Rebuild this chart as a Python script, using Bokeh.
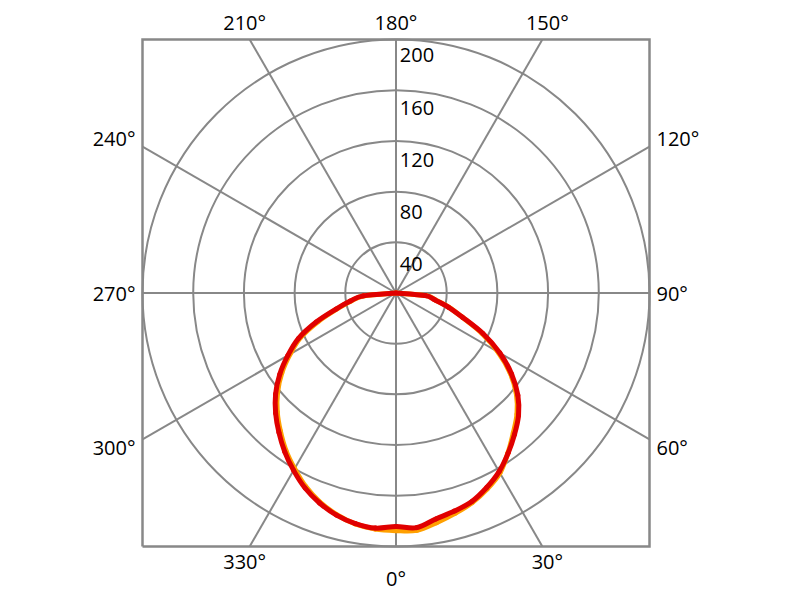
import numpy as np
from bokeh.plotting import figure
from bokeh.core.properties import value
from bokeh.embed import file_html
from bokeh.resources import INLINE

# ---- data ----
angles = [-90, -85, -80, -75, -70, -65, -60, -55, -50, -45, -40, -35, -30, -25, -20, -15, -10, -5,
          0, 5, 10, 15, 20, 25, 30, 35, 40, 45, 50, 55, 60, 65, 70, 75, 80, 85, 90]
orange_vals = [0, 25, 36, 48, 65, 83, 96.5, 110, 122, 132.5, 142, 151.5, 160, 168.5, 175.5, 181, 185, 187,
               187.5, 188, 184, 180, 176, 170.5, 164, 154, 144, 135, 124, 110, 93, 74.5, 55.5, 43, 31.5, 24, 0]
red_vals = [0, 26, 36.6, 49, 67, 85, 98.5, 112, 124, 134.3, 143.7, 153, 161.6, 169.8, 176.3, 181.4, 184.7, 186.2,
            184.2, 185.8, 181, 178.1, 175, 169.3, 162.7, 154.2, 145.5, 136.7, 125.5, 111.3, 94.6, 75.7, 55.8, 42.7, 31, 23, 0]
radial_ticks = [40, 80, 120, 160, 200]
radial_labels = ["40", "80", "120", "160", "200"]
angle_ticks = [0, 30, 60, 90, 120, 150, 180, 210, 240, 270, 300, 330]
angle_labels = ["0°", "30°", "60°", "90°", "120°", "150°", "180°", "210°", "240°", "270°", "300°", "330°"]

RMAX = 200
GRID = "#888888"
FONT = "Open Sans"
FS = "20px"
TXT = "#000000"

W, H = 796, 596
CX, CY = 395.5, 292.5          # centre of the polar area on the canvas
PX = 253.5 / RMAX              # pixels per data unit

p = figure(width=W, height=H,
           x_range=(-CX / PX, (W - CX) / PX), y_range=((CY - H) / PX, CY / PX),
           min_border=0, x_axis_type=None, y_axis_type=None,
           output_backend="svg", toolbar_location=None)
p.grid.visible = False
p.outline_line_color = None
p.background_fill_color = "white"
p.border_fill_color = "white"

# circles
for r in radial_ticks:
    p.circle(x=[0], y=[0], radius=r, fill_color=None, line_color=GRID, line_width=2)

# spokes to the square border
for a in angle_ticks:
    t = np.radians(a)
    dx, dy = np.sin(t), -np.cos(t)
    s = RMAX / max(abs(dx), abs(dy))
    p.line([0, s * dx], [0, s * dy], line_color=GRID, line_width=2)

# square border
p.line([-RMAX, RMAX, RMAX, -RMAX, -RMAX], [-RMAX, -RMAX, RMAX, RMAX, -RMAX],
       line_color=GRID, line_width=2.5, line_join="miter")


def smooth_curve(vals, color):
    th = np.radians(angles)
    r = np.array(vals, dtype=float)
    x = r * np.sin(th)
    y = -r * np.cos(th)
    n = len(x)
    xp = np.concatenate([[x[0]], x, [x[-1]]])
    yp = np.concatenate([[y[0]], y, [y[-1]]])
    x0, y0 = xp[1:n], yp[1:n]
    x1, y1 = xp[2:n + 1], yp[2:n + 1]
    cx0 = x0 + (xp[2:n + 1] - xp[0:n - 1]) / 6
    cy0 = y0 + (yp[2:n + 1] - yp[0:n - 1]) / 6
    cx1 = x1 - (xp[3:n + 2] - xp[1:n]) / 6
    cy1 = y1 - (yp[3:n + 2] - yp[1:n]) / 6
    p.bezier(x0=x0, y0=y0, x1=x1, y1=y1, cx0=cx0, cy0=cy0, cx1=cx1, cy1=cy1,
             line_color=color, line_width=5, line_cap="round")


smooth_curve(orange_vals, "#ffa000")
smooth_curve(red_vals, "#e00000")

# radial labels
ry = [r - (18 - 0.027 * r) for r in radial_ticks]
p.text(x=[3] * len(radial_ticks), y=ry, text=radial_labels, text_font=value(FONT),
       text_font_size=FS, text_color=TXT, text_align="left", text_baseline="middle")

# angle labels
for a, lab in zip(angle_ticks, angle_labels):
    t = np.radians(a)
    dx, dy = np.sin(t), -np.cos(t)
    if abs(dx) < 1e-9:
        dx = 0.0
    s = RMAX / max(abs(dx), abs(dy))
    x, y = s * dx, s * dy
    if abs(dy) >= abs(dx) - 1e-9:
        y += np.sign(dy) * (17 if dy > 0 else 15) / PX
        if a == 0:
            y -= 17 / PX
        x += np.sign(dx) * 5 / PX
        align = "center"
    else:
        x += np.sign(dx) * 7 / PX
        y += np.sign(round(dy, 6)) * 8 / PX
        align = "left" if dx > 0 else "right"
    p.text(x=[x], y=[y], text=[lab], text_font=value(FONT), text_font_size=FS,
           text_color=TXT, text_align=align, text_baseline="middle")

open("out.html", "w").write(file_html(p, INLINE))
